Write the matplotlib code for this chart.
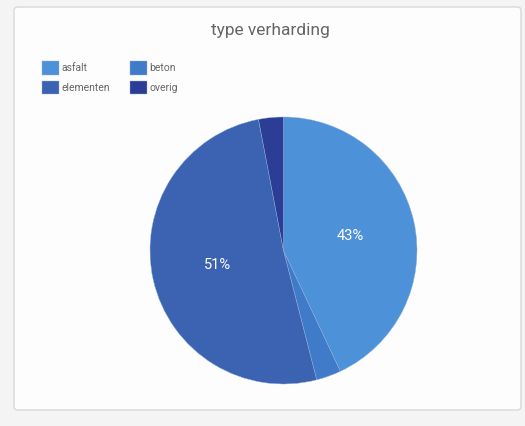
import matplotlib.pyplot as plt
from matplotlib.patches import FancyBboxPatch

labels = ["asfalt", "beton", "elementen", "overig"]
values = [43, 3, 51, 3]
colors = ["#4d92d8", "#3f7bc9", "#3c63b2", "#2b3d94"]

plt.rcParams["font.family"] = ["Roboto", "DejaVu Sans"]

fig = plt.figure(figsize=(5.25, 4.26), dpi=100)
fig.patch.set_facecolor("#f4f4f4")

# white panel with a light border
panel = FancyBboxPatch((14 / 525, 16 / 426), 507 / 525, 403 / 426,
                       boxstyle="round,pad=0,rounding_size=0.008",
                       transform=fig.transFigure, facecolor="#fdfdfd",
                       edgecolor="#d8d8d8", linewidth=1, zorder=-5)
fig.patches.append(panel)

ax = fig.add_axes([150 / 525, 1 - 384 / 426, 267 / 525, 267 / 426])
ax.set_zorder(2)


def pct(p):
    return "%d%%" % round(p) if p > 5 else ""


wedges, texts, autotexts = ax.pie(values, colors=colors, startangle=90,
                                  counterclock=False, autopct=pct,
                                  pctdistance=0.51,
                                  wedgeprops=dict(linewidth=0.3, edgecolor="#8fb0e0"),
                                  textprops=dict(color="white", fontsize=10.5))
ax.set_xlim(-1.0, 1.0)
ax.set_ylim(-1.0, 1.0)
ax.set_aspect("equal")

fig.text(270 / 525, 1 - 31 / 426, "type verharding", ha="center", va="center",
         fontsize=12.5, color="#666666")

# legend is filled row by row in the reference
order = [0, 2, 1, 3]
leg = fig.legend([wedges[i] for i in order], [labels[i] for i in order],
                 ncol=2, loc="upper left",
                 bbox_to_anchor=(33 / 525, 1 - 52 / 426), frameon=False,
                 fontsize=7.5, labelcolor="#666666", handlelength=1.6,
                 handleheight=1.6, handletextpad=0.25, columnspacing=1.9,
                 labelspacing=0.6)
leg.set_zorder(3)

fig.savefig("out.png", dpi=100, facecolor=fig.get_facecolor())
